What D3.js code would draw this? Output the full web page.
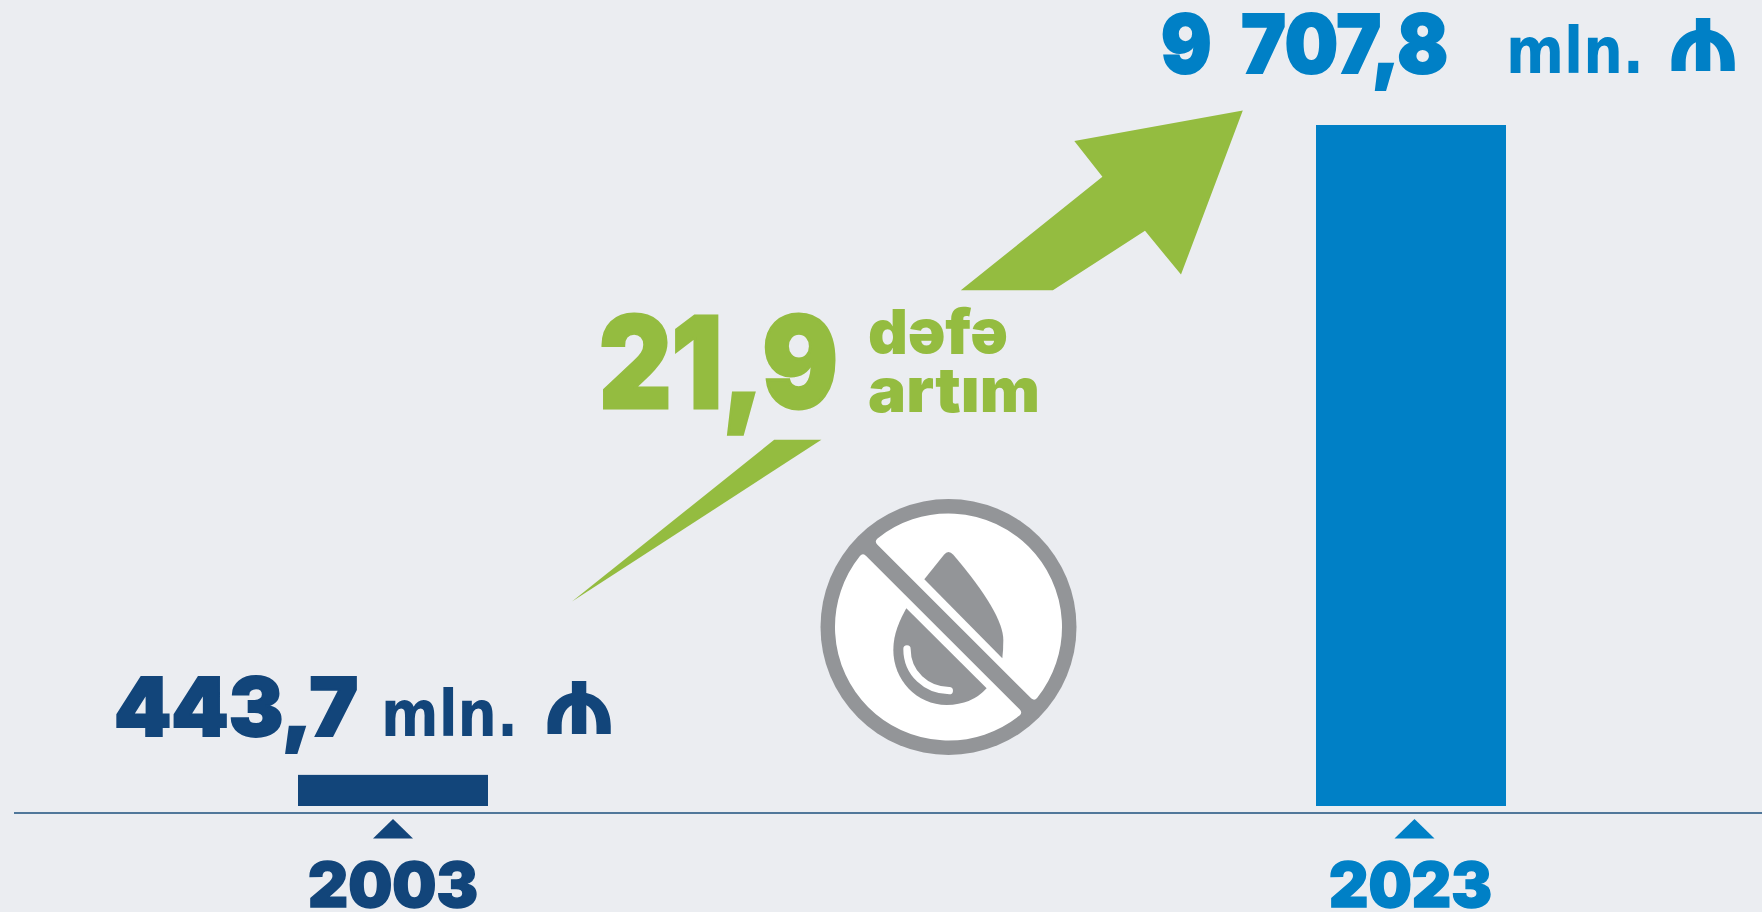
<!DOCTYPE html>
<html><head><meta charset="utf-8">
<script src="https://cdn.jsdelivr.net/npm/d3@7/dist/d3.min.js"></script>
<style>html,body{margin:0;padding:0;background:#ebedf1;overflow:hidden}svg{display:block}
text{font-family:Inter,"Noto Sans",sans-serif;font-weight:900}</style></head><body>
<svg id="c" width="1762" height="912"></svg>
<script>
const years=["2003","2023"];
const values=[443.7,9707.8];
const valueLabels=["443,7","9 707,8"];
const unitLabel="mln.";
const currencyLabel="₼";
const ratioLabel="21,9";
const ratioWords=["dəfə","artım"];
const seriesColors=["#12457a","#0080c6"];
const green="#94bc40",grey="#939598",bg="#ebedf1";

const svg=d3.select("#c");
svg.append("rect").attr("width",1762).attr("height",912).attr("fill",bg);
const x=d3.scaleBand().domain(years).range([298,1506]).paddingInner(1-190/1018).paddingOuter(0);
const y=d3.scaleLinear().domain([0,d3.max(values)]).range([806,125]);

function txt(s,l,r,base,size,fill,font,sw,wt){
  const t=svg.append("text").text(s).attr("x",l).attr("y",base).attr("font-size",size).attr("fill",fill);
  if(font)t.style("font-family",font);
  if(wt)t.style("font-weight",wt);
  if(sw)t.attr("stroke",fill).attr("stroke-width",sw);
  t.attr("textLength",r-l).attr("lengthAdjust","spacingAndGlyphs");
  return t;
}
svg.selectAll("rect.bar").data(years).join("rect").attr("class","bar")
 .attr("x",d=>x(d)).attr("width",x.bandwidth())
 .attr("y",(d,i)=>y(values[i])).attr("height",(d,i)=>y(0)-y(values[i]))
 .attr("fill",(d,i)=>seriesColors[i]);
svg.append("line").attr("x1",14).attr("x2",1762).attr("y1",813).attr("y2",813).attr("stroke","#1d4f7c").attr("stroke-width",1.6);
const triOff=[0,3.5];
years.forEach((d,i)=>{
  const cx=x(d)+x.bandwidth()/2+triOff[i];
  svg.append("path").attr("d",`M${cx},819L${cx+20},838.5L${cx-20},838.5Z`).attr("fill",seriesColors[i]);
});
txt(years[0],308,478,907,62,seriesColors[0],null,1.5);
txt(years[1],1329,1492,907,62,seriesColors[1],null,1.5);
txt(valueLabels[0],114,358,736,81,seriesColors[0],null,2);
txt(unitLabel,381,518,736,64,seriesColors[0],"'DejaVu Sans'",0,700);
txt(currencyLabel,541,617,734,98,seriesColors[0],null,0,700);
txt(valueLabels[1],1161,1448,73,81,seriesColors[1],null,2).style("word-spacing","16px");
txt(unitLabel,1506,1644,73,64,seriesColors[1],"'DejaVu Sans'",0,700);
txt(currencyLabel,1665,1741,71,98,seriesColors[1],null,0,700);
txt(ratioLabel,599,838,408,127,green,null,3);
txt(ratioWords[0],868,1008,354,62,green);
txt(ratioWords[1],868,1040,412,62,green);
svg.append("path").attr("d","M1242.8,110.5L1074.3,141L1102.4,176.8L960.8,290.3L1052.9,290.3L1145,230.8L1181,274.6Z").attr("fill",green);
svg.append("path").attr("d","M774.2,439.8L821.4,439.8L572,601.6Z").attr("fill",green);
const ic=svg.append("g").attr("transform","translate(948.5,627)");
ic.append("circle").attr("r",128).attr("fill",grey);
const R=109.5,dd=12,h=Math.sqrt(R*R-dd*dd),s2=Math.SQRT1_2;
const seg=(sg)=>{
  const nx=sg*s2,ny=-sg*s2,ux=sg*s2,uy=sg*s2;
  const ax=-h*ux+dd*nx,ay=-h*uy+dd*ny,bx=h*ux+dd*nx,by=h*uy+dd*ny;
  return `M${ax},${ay}A${R},${R} 0 0 1 ${bx},${by}Z`;
};
[1,-1].forEach(sg=>ic.append("path").attr("d",seg(sg)).attr("fill","#fff").attr("stroke","#fff").attr("stroke-width",8).attr("stroke-linejoin","round"));
const dr=svg.append("g").attr("transform","translate(790,480) scale(0.3333)");
dr.append("path").attr("fill",grey).attr("d","M403,298L462,224Q475,208 490,224Q640,400 640,480Q640,510 637,535Z");
dr.append("path").attr("fill",grey).attr("d","M349,385L590,625Q545,675 470,675C380,675 310,600 310,510C310,460 330,420 349,385Z");
dr.append("path").attr("fill","none").attr("stroke","#fff").attr("stroke-width",22).attr("stroke-linecap","round").attr("d","M351,507C351,580 410,632 478,632");
</script></body></html>
